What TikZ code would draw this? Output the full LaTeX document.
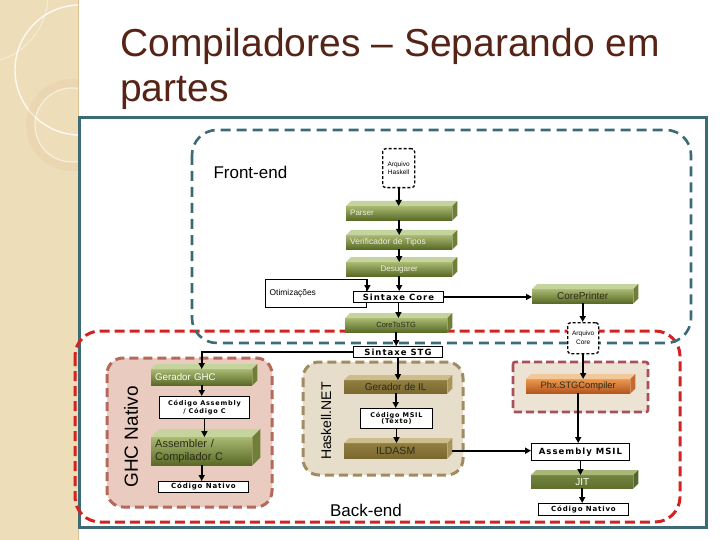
\documentclass[tikz,border=0pt]{standalone}
\usepackage{fontspec}
\setmainfont{Liberation Sans}
\newfontfamily\spfont[LetterSpace=12]{DejaVu Sans}
\usetikzlibrary{arrows.meta,calc}

\definecolor{teal1}{HTML}{3B6C76}
\definecolor{red1}{HTML}{D42222}
\definecolor{strip}{HTML}{EEDDB9}
\definecolor{titlec}{HTML}{552416}
\definecolor{grnA}{HTML}{A9B972}
\definecolor{grnB}{HTML}{586A26}
\definecolor{grnT}{HTML}{C4D49C}
\definecolor{grnS}{HTML}{6F7F38}
\definecolor{brnA}{HTML}{917E40}
\definecolor{brnB}{HTML}{7A6830}
\definecolor{brnT}{HTML}{CDBD8C}
\definecolor{brnS}{HTML}{A8955C}
\definecolor{orgA}{HTML}{EA9850}
\definecolor{orgB}{HTML}{B4561E}
\definecolor{orgT}{HTML}{F2C898}
\definecolor{orgS}{HTML}{C86A30}
\definecolor{jitA}{HTML}{748440}
\definecolor{jitB}{HTML}{5E6E2C}
\definecolor{jitT}{HTML}{A8B87A}
\definecolor{jitS}{HTML}{56662A}
\definecolor{ghcfill}{HTML}{EACBC0}
\definecolor{ghcline}{HTML}{B5685C}
\definecolor{netfill}{HTML}{E6DECB}
\definecolor{netline}{HTML}{A08C60}
\definecolor{phxfill}{HTML}{EDE3D5}
\definecolor{phxline}{HTML}{A8505A}
\definecolor{lighttext}{HTML}{EEEEDD}
\definecolor{darktext}{HTML}{2A2A18}

\tikzset{
  arr/.style={-{Triangle[length=6pt,width=6pt]}, line width=1.7pt},
  wb/.style={draw, line width=0.9pt, fill=white, anchor=north west, inner sep=0pt, align=center,
    font=\spfont\bfseries\fontsize{#1}{#1}\selectfont},
  wb/.default=7,
  filebox/.style={draw, line width=1.3pt, dash pattern=on 3pt off 2pt, rounded corners=3pt,
    fill=white, anchor=north west, inner sep=0pt, align=center, font=\fontsize{6.5}{8}\selectfont},
  lbl/.style={font=\fontsize{#1}{#1}\selectfont},
  lbl/.default=8,
}

\newcommand\wbox[7][7]{\node[wb=#1, minimum width=#5pt, minimum height=#6pt] (#2) at (#3,#4) {#7};}
\newcommand\cubebox[9][5]{%
  \node[anchor=north west, inner xsep=4pt, inner ysep=0pt, top color=#3A, bottom color=#3B,
    minimum width=#6pt, minimum height=#7pt, #8] (#2) at (#4,#5) {#9};
  \fill[#3T] (#2.north west) -- ++(#1,-#1) -- ($(#2.north east)+(#1,-#1)$) -- (#2.north east) -- cycle;
  \fill[#3S] (#2.north east) -- ++(#1,-#1) -- ($(#2.south east)+(#1,-#1)$) -- (#2.south east) -- cycle;
}

\begin{document}
\begin{tikzpicture}[x=1pt,y=-1pt]
\useasboundingbox (0,0) rectangle (720,540);
\fill[white] (0,0) rectangle (720,540);
% left decorative strip
\fill[strip] (0,0) rectangle (78,540);
\begin{scope}
  \clip (0,0) rectangle (78,540);
  \draw[white, line width=1.4pt, opacity=0.85] (80,70) circle (65);
  \draw[white, line width=0.8pt, opacity=0.5] (-20,-5) circle (68);
  \draw[strip!80!brown, line width=8pt, opacity=0.35] (72,125) circle (42);
  \draw[white, line width=1pt, opacity=0.6] (72,125) circle (37);
\end{scope}
\draw[strip!70!brown, line width=0.8pt] (78,0) -- (78,540);

% title
\node[anchor=base west, inner sep=0pt, align=left, text=titlec,
  font=\fontsize{39}{45}\selectfont] (title) at (120,102) {Compiladores -- Separando em\\partes};

% frame
\draw[teal1, line width=3pt] (79,118) rectangle (706,527);

% back-end and front-end regions
\draw[red1, line width=3pt, dash pattern=on 10pt off 5pt, rounded corners=25pt] (75,331) rectangle (680,522);
\draw[teal1, line width=2.6pt, dash pattern=on 10pt off 6pt, rounded corners=25pt] (192,130) rectangle (691,343);

% sub containers
\draw[ghcline, fill=ghcfill, line width=3pt, dash pattern=on 9pt off 5pt, rounded corners=16pt] (107,358) rectangle (272,507);
\draw[netline, fill=netfill, line width=3pt, dash pattern=on 9pt off 5pt, rounded corners=16pt] (303,362) rectangle (463,475);
\draw[phxline, fill=phxfill, line width=2.6pt, dash pattern=on 8pt off 4pt, rounded corners=2pt] (513,362) rectangle (648,412);

% labels
\node[anchor=west, font=\fontsize{17}{17}\selectfont] (fe) at (210,172) {Front-end};
\node[font=\fontsize{17}{17}\selectfont] (be) at (366,510) {Back-end};
\node[rotate=90, font=\fontsize{19}{19}\selectfont] (ghcl) at (131,437) {GHC Nativo};
\node[rotate=90, font=\fontsize{14}{14}\selectfont] (netl) at (326,421) {Haskell.NET};

% front-end nodes
\node[filebox, minimum width=32pt, minimum height=39pt] (ahs) at (382,148) {Arquivo\\Haskell};
\cubebox{parser}{grn}{346}{206}{106}{14}{text width=98pt, align=left, text=lighttext, lbl=8}{Parser}
\cubebox{verif}{grn}{346}{235}{106}{14}{text width=98pt, align=left, text=lighttext, lbl=8.5}{Verificador de Tipos}
\cubebox{desug}{grn}{346}{262}{106}{14}{text=lighttext, lbl=8}{Desugarer}
\node[draw, line width=1.4pt, anchor=north west, minimum width=101pt, minimum height=28pt,
  text width=93pt, inner xsep=4pt, align=left, lbl=8.4] (otim) at (265,279) {Otimizações};
\wbox[8.5]{score}{353}{291}{90}{11}{Sintaxe Core}
\cubebox{corep}{grn}{532}{289}{101}{14}{text=darktext, lbl=10}{CorePrinter}
\cubebox{cts}{grn}{345}{318}{102}{14}{text=darktext, lbl=7.5}{CoreToSTG}
\node[filebox, minimum width=31pt, minimum height=31pt, font=\fontsize{6.5}{9}\selectfont] (acore) at (567,322) {Arquivo\\Core};
\wbox[8.5]{sstg}{353}{346}{89}{11}{Sintaxe STG}

% GHC nativo
\cubebox{ggen}{grn}{151}{369}{101}{16}{text width=93pt, align=left, text=white, lbl=9.7}{Gerador GHC}
\wbox[6.5]{cac}{159}{396}{90}{22}{Código Assembly\\/ Código C}
\cubebox[8]{asm}{grn}{151}{437}{101}{28}{text width=93pt, align=left, text=darktext,
  font=\fontsize{11}{13}\selectfont}{Assembler /\\Compilador C}
\wbox[7]{cn1}{158}{481}{90}{11}{Código Nativo}

% Haskell.NET
\cubebox{gil}{brn}{344}{380}{103}{13}{text=darktext, lbl=10}{Gerador de IL}
\wbox[6.5]{msil}{360}{408}{72}{20}{Código MSIL\\(Texto)}
\cubebox{ildasm}{brn}{344}{443}{103}{15}{text=darktext, lbl=10.5}{ILDASM}

% Phoenix path
\cubebox{phx}{org}{526}{379}{104}{14}{text=darktext, lbl=9.3}{Phx.STGCompiler}
\wbox[8.5]{amsil}{531}{443}{98}{17}{Assembly MSIL}
\cubebox{jit}{jit}{531}{475}{102}{13}{text=white, lbl=10}{JIT}
\wbox[7]{cn2}{538}{503}{90}{12}{Código Nativo}

% connectors
\draw[arr] (ahs.south) -- (ahs.south |- parser.north);
\draw[arr] (parser.south) -- (verif.north);
\draw[arr] (verif.south) -- (desug.north);
\draw[arr] (desug.south) -- (desug.south |- score.north);
\draw[arr] (otim.north east) -- (otim.north east |- score.north);
\draw[arr] (score.east) -- (score.east -| corep.west);
\draw[arr] (score.south) -- (score.south |- cts.north);
\draw[arr] (cts.south) -- (cts.south |- sstg.north);
\draw[arr] (corep.south) -- (corep.south |- acore.north);
\draw[arr] (sstg.south) -- (sstg.south |- gil.north);
\draw[arr] (sstg.west) -| (ggen.north);
\draw[arr] (ggen.south) -- (ggen.south |- cac.north);
\draw[arr] (cac.south) -- (cac.south |- asm.north);
\draw[arr] (asm.south) -- (asm.south |- cn1.north);
\draw[arr] (gil.south) -- (gil.south |- msil.north);
\draw[arr] (msil.south) -- (msil.south |- ildasm.north);
\draw[arr] ($(ildasm.east)+(5,0)$) -- (ildasm.east -| amsil.west);
\draw[arr] (acore.south) -- (acore.south |- phx.north);
\draw[arr] (phx.south) -- (phx.south |- amsil.north);
\draw[arr] (amsil.south) -- (amsil.south |- jit.north);
\draw[arr] (jit.south) -- (jit.south |- cn2.north);
\end{tikzpicture}
\end{document}
